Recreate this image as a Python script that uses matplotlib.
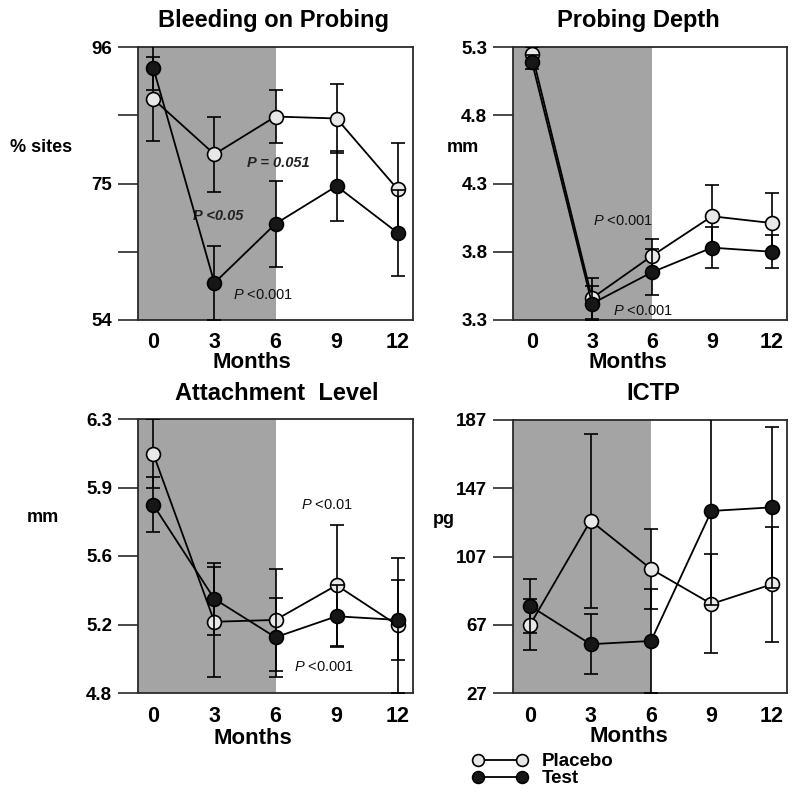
import matplotlib
matplotlib.use("Agg")
import matplotlib.pyplot as plt

plt.rcParams["font.family"] = ["Liberation Sans", "DejaVu Sans"]
plt.rcParams["mathtext.fontset"] = "custom"
plt.rcParams["mathtext.it"] = "Liberation Sans:italic"
plt.rcParams["mathtext.rm"] = "Liberation Sans"

W, H = 800, 807

months = [0, 3, 6, 9, 12]

# Bleeding on probing (% sites)
bop_placebo = [88.0, 79.5, 85.3, 85.0, 74.1]
bop_placebo_err = [6.4, 5.8, 4.1, 5.3, 7.2]
bop_test = [92.8, 59.7, 68.8, 74.6, 67.4]
bop_test_err = [3.4, 5.7, 6.6, 5.4, 6.6]
bop_ticks = [54, 64.5, 75, 85.5, 96]
bop_ticklabels = ["54", "", "75", "", "96"]

# Probing depth (mm)
pd_placebo = [5.25, 3.46, 3.77, 4.06, 4.01]
pd_placebo_err = [0.05, 0.15, 0.12, 0.23, 0.22]
pd_test = [5.19, 3.42, 3.65, 3.83, 3.80]
pd_test_err = [0.05, 0.13, 0.17, 0.15, 0.12]
pd_ticks = [3.3, 3.8, 4.3, 4.8, 5.3]
pd_ticklabels = ["3.3", "3.8", "4.3", "4.8", "5.3"]

# Attachment level (mm)
al_placebo = [6.11, 5.19, 5.20, 5.39, 5.17]
al_placebo_err = [0.19, 0.30, 0.28, 0.33, 0.37]
al_test = [5.83, 5.315, 5.105, 5.22, 5.20]
al_test_err = [0.15, 0.195, 0.215, 0.17, 0.22]
al_ticks = [4.8, 5.175, 5.55, 5.925, 6.3]
al_ticklabels = ["4.8", "5.2", "5.6", "5.9", "6.3"]

# ICTP (pg)
ictp_placebo = [67, 128, 99.7, 79.2, 90.7]
ictp_placebo_err = [15, 51, 23.4, 29, 33.7]
ictp_test = [78, 55.6, 57.5, 133.7, 135.8]
ictp_test_err = [16, 17.6, 30.5, 55, 47]
ictp_ticks = [27, 67, 107, 147, 187]
ictp_ticklabels = ["27", "67", "107", "147", "187"]

SHADE = "#a4a4a4"
EDGE = "#2a2a2a"


def px_rect(left, right, top, bottom):
    return (left / W, 1 - bottom / H, (right - left) / W, (bottom - top) / H)


def draw_panel(fig, rect, xlim, ticks, ticklabels, placebo, placebo_err, test, test_err):
    ax = fig.add_axes(rect)
    ax.axvspan(xlim[0], 6, color=SHADE, lw=0, zorder=0)
    kw = dict(fmt="-o", color="black", lw=1.3, elinewidth=1.2, capsize=5,
              capthick=1.2, ms=10, mec="black", mew=1.2)
    eb_p = ax.errorbar(months, placebo, yerr=placebo_err, mfc="#e8e8e8", zorder=3, **kw)
    eb_t = ax.errorbar(months, test, yerr=test_err, mfc="#161616", zorder=4, **kw)
    ax.set_xlim(xlim)
    ax.set_ylim(ticks[0], ticks[-1])
    ax.set_xticks(months)
    ax.set_xticklabels([str(m) for m in months], fontsize=15.5, fontweight="bold")
    ax.set_yticks(ticks)
    ax.set_yticklabels(ticklabels, fontsize=13.5, fontweight="bold")
    ax.tick_params(axis="x", length=0, pad=9)
    ax.tick_params(axis="y", direction="out", length=14.5, width=1.2, color=EDGE, pad=4)
    for sp in ax.spines.values():
        sp.set_linewidth(1.3)
        sp.set_color(EDGE)
    return ax, eb_p, eb_t


fig = plt.figure(figsize=(W / 100, H / 100), dpi=100)

ax1, _, _ = draw_panel(fig, px_rect(138, 413, 47, 320), (-0.75, 12.75), bop_ticks, bop_ticklabels,
                       bop_placebo, bop_placebo_err, bop_test, bop_test_err)
ax2, _, _ = draw_panel(fig, px_rect(513, 787, 47, 320), (-0.95, 12.75), pd_ticks, pd_ticklabels,
                       pd_placebo, pd_placebo_err, pd_test, pd_test_err)
ax3, _, _ = draw_panel(fig, px_rect(138, 413, 419, 693), (-0.75, 12.75), al_ticks, al_ticklabels,
                       al_placebo, al_placebo_err, al_test, al_test_err)
ax4, eb_p, eb_t = draw_panel(fig, px_rect(513, 787, 420, 693), (-0.85, 12.75), ictp_ticks, ictp_ticklabels,
                             ictp_placebo, ictp_placebo_err, ictp_test, ictp_test_err)


def ftext(x, y, s, **kw):
    fig.text(x / W, 1 - y / H, s, **kw)


# titles
title_kw = dict(fontsize=17, fontweight="bold", ha="center", va="center")
ftext(273, 20, "Bleeding on Probing", **title_kw)
ftext(638, 20, "Probing Depth", **title_kw)
ftext(277, 393, "Attachment  Level", **title_kw)
ftext(653, 393, "ICTP", **title_kw)

# x labels
xl_kw = dict(fontsize=16, fontweight="bold", ha="center", va="center")
ftext(252, 363, "Months", **xl_kw)
ftext(628, 363, "Months", **xl_kw)
ftext(253, 738, "Months", **xl_kw)
ftext(629, 736, "Months", **xl_kw)

# y labels
yl_kw = dict(fontsize=13, fontweight="bold", ha="left", va="center")
ftext(10, 147, "% sites", **yl_kw)
ftext(447, 147, "mm", **yl_kw)
ftext(27, 518, "mm", **yl_kw)
ftext(433, 520, "pg", **yl_kw)

# p-value annotations
ital = dict(fontsize=10.5, style="italic", fontweight="bold", va="center", ha="left", color="#222222")
mixed = dict(fontsize=10.5, va="center", ha="left", color="#111111")
ax1.text(4.62, 78.2, "P = 0.051", **ital)
ax1.text(1.97, 70.0, "P <0.05", **ital)
ax1.text(3.93, 57.8, r"$\mathit{P}$ <0.001", **mixed)
ax2.text(3.05, 4.025, r"$\mathit{P}$ <0.001", **mixed)
ax2.text(4.05, 3.365, r"$\mathit{P}$ <0.001", **mixed)
ax3.text(7.23, 5.83, r"$\mathit{P}$ <0.01", **mixed)
ax3.text(6.89, 4.94, r"$\mathit{P}$ <0.001", **mixed)

# legend
leg = fig.legend([eb_p[0], eb_t[0]], ["Placebo", "Test"], numpoints=2, frameon=False,
                 loc="upper left", bbox_to_anchor=(472 / W, 1 - 753 / H),
                 prop=dict(size=13.5, weight="bold"), handlelength=2.95, handletextpad=0.75,
                 labelspacing=0.0, markerscale=0.85, borderpad=0, borderaxespad=0)

fig.savefig("out.png", dpi=100)
plt.close(fig)
